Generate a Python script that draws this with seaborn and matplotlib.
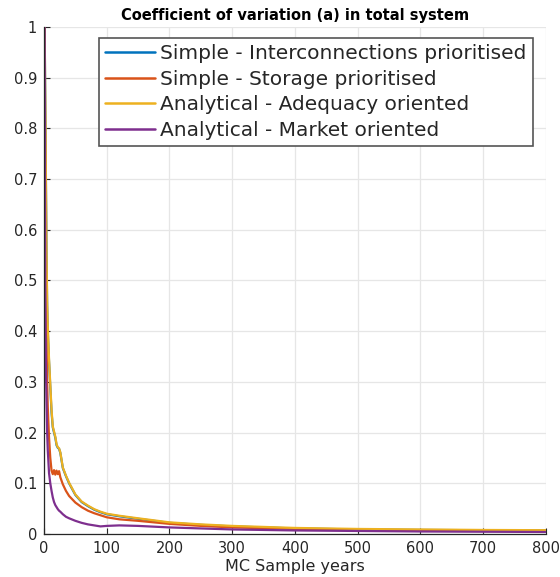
import matplotlib
matplotlib.use("Agg")
import matplotlib.pyplot as plt
import seaborn as sns
import pandas as pd

years = [1, 2, 3, 4, 5, 6, 8, 10, 12, 14, 16, 18, 20, 22, 24, 26, 30, 35, 40,
         50, 60, 70, 80, 90, 100, 120, 150, 200, 250, 300, 400, 500, 600, 700, 800]

cv_simple_inter = [1.0, 0.85, 0.70, 0.55, 0.45, 0.40, 0.34, 0.29, 0.24, 0.21, 0.200,
                   0.190, 0.175, 0.170, 0.168, 0.160, 0.130, 0.114, 0.100, 0.077,
                   0.063, 0.055, 0.048, 0.043, 0.039, 0.035, 0.030, 0.022, 0.018,
                   0.015, 0.011, 0.009, 0.008, 0.0075, 0.007]
cv_simple_storage = [1.0, 0.70, 0.50, 0.38, 0.30, 0.25, 0.19, 0.15, 0.125, 0.118, 0.126,
                     0.117, 0.125, 0.118, 0.124, 0.112, 0.098, 0.085, 0.075, 0.062,
                     0.053, 0.046, 0.041, 0.037, 0.033, 0.029, 0.026, 0.020, 0.016,
                     0.013, 0.010, 0.008, 0.007, 0.0065, 0.006]
cv_adequacy = [1.0, 0.86, 0.71, 0.56, 0.46, 0.41, 0.345, 0.295, 0.245, 0.212, 0.202,
               0.192, 0.177, 0.171, 0.169, 0.161, 0.131, 0.115, 0.101, 0.078,
               0.064, 0.056, 0.049, 0.044, 0.040, 0.036, 0.031, 0.023, 0.019,
               0.016, 0.012, 0.010, 0.009, 0.008, 0.0075]
cv_market = [1.0, 0.50, 0.33, 0.26, 0.20, 0.165, 0.12, 0.10, 0.085, 0.072, 0.063,
             0.057, 0.053, 0.049, 0.046, 0.044, 0.039, 0.034, 0.031, 0.026,
             0.022, 0.019, 0.017, 0.015, 0.016, 0.017, 0.016, 0.013, 0.011,
             0.009, 0.007, 0.006, 0.005, 0.0045, 0.004]

labels = ["Simple - Interconnections prioritised", "Simple - Storage prioritised",
          "Analytical - Adequacy oriented", "Analytical - Market oriented"]
colors = ["#0072BD", "#D95319", "#EDB120", "#7E2F8E"]

frames = []
for lab, vals in zip(labels, [cv_simple_inter, cv_simple_storage, cv_adequacy, cv_market]):
    frames.append(pd.DataFrame({"years": years, "cv": vals, "case": lab}))
df = pd.concat(frames, ignore_index=True)

sns.set_style("whitegrid")
plt.rcParams["font.family"] = ["DejaVu Sans"]

fig = plt.figure(figsize=(5.6, 5.77), dpi=100)
ax = fig.add_axes([0.0786, 0.0745, 0.896, 0.879])

sns.lineplot(data=df, x="years", y="cv", hue="case", hue_order=labels,
             palette=colors, linewidth=1.6, ax=ax)

ax.set_xlim(0, 800)
ax.set_ylim(0, 1)
ax.set_xticks(range(0, 801, 100))
ax.set_yticks([i / 10 for i in range(11)])
ax.set_yticklabels(["0"] + ["0.%d" % i for i in range(1, 10)] + ["1"])
ax.tick_params(direction="in", length=4, labelsize=10.5, colors="#262626",
               left=True, bottom=True, pad=5)
ax.grid(True, color="#e6e6e6", linewidth=0.9)
for side in ["top", "right"]:
    ax.spines[side].set_visible(False)
for side in ["left", "bottom"]:
    ax.spines[side].set_color("#262626")
    ax.spines[side].set_linewidth(0.9)

ax.set_xlabel("MC Sample years", fontsize=11.5, color="#262626", labelpad=2)
ax.set_ylabel("")
ax.set_title("Coefficient of variation (a) in total system", fontsize=10.5,
             fontweight="bold", pad=5, color="black")

leg = ax.legend(loc="upper right", bbox_to_anchor=(0.974, 0.978), fontsize=14.5,
                frameon=True, fancybox=False, handlelength=2.5, handletextpad=0.25,
                labelspacing=0.33, borderpad=0.3, borderaxespad=0)
leg.get_frame().set_edgecolor("#555555")
leg.get_frame().set_linewidth(1.2)
leg.get_frame().set_alpha(1)
for line in leg.get_lines():
    line.set_linewidth(1.8)

fig.savefig("out.png", dpi=100)
